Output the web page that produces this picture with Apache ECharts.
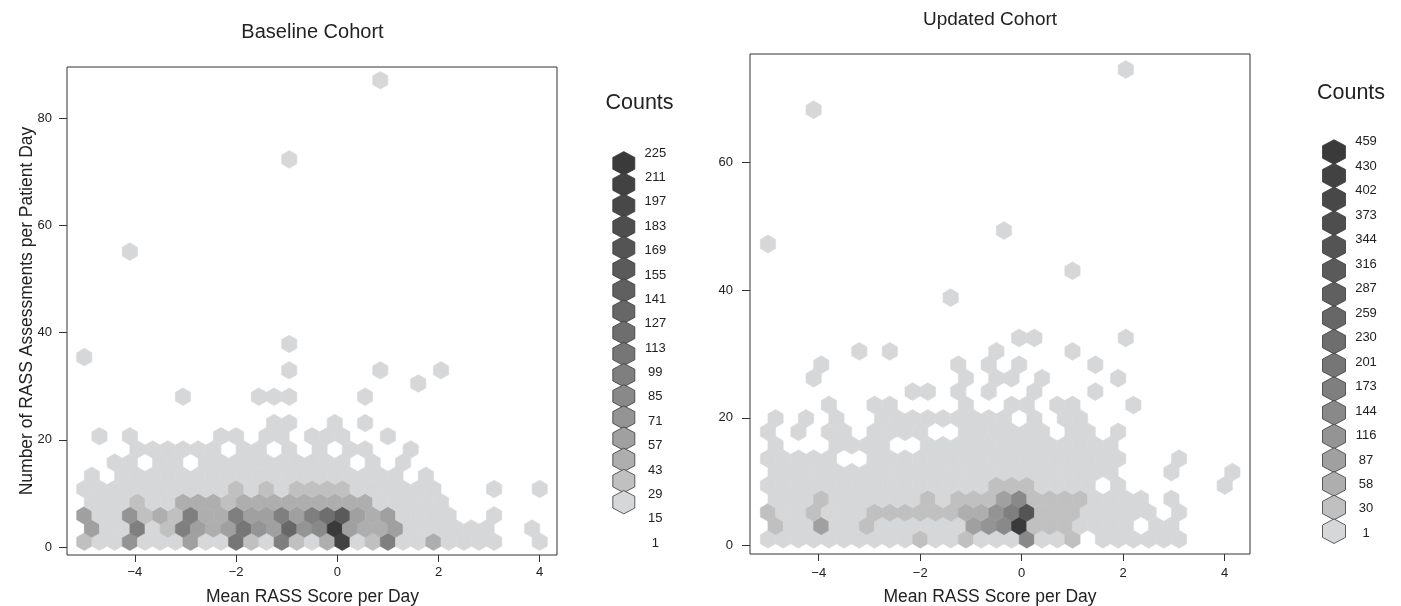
<!DOCTYPE html>
<html>
<head>
<meta charset="utf-8">
<script src="https://cdn.jsdelivr.net/npm/echarts@6/dist/echarts.min.js"></script>
<style>
html,body{margin:0;padding:0;background:#fff;}
#chart{width:1401px;height:606px;}
</style>
</head>
<body>
<div id="chart"></div>
<script>
// ---------------- DATA ----------------
// Hexbin counts, one array per hex row (index = column), 0 = empty cell
const xTicks = [-4, -2, 0, 2, 4];
const yTicksLeft = [0, 20, 40, 60, 80];
const yTicksRight = [0, 20, 40, 60];

const legendLeft = [1, 15, 29, 43, 57, 71, 85, 99, 113, 127, 141, 155, 169, 183, 197, 211, 225];
const legendRight = [1, 30, 58, 87, 116, 144, 173, 201, 230, 259, 287, 316, 344, 373, 402, 430, 459];

// Baseline cohort rows (row 0 at bottom)
const baseRow0 = [15,6,7,65,8,9,10,55,10,12,110,25,12,95,28,12,42,222,12,18,95,10,8,30,6,4,3,2,0,0,1];
const baseRow1 = [55,8,9,90,10,28,85,55,42,45,110,65,55,135,65,75,225,55,42,30,55,12,10,8,5,3,2,0,0,1,0];
const baseRow2 = [55,8,9,65,28,42,28,95,42,40,95,55,45,95,45,85,125,165,45,30,55,12,10,7,4,0,0,2,0,0,0];
const baseRow3 = [10,11,12,28,14,14,30,30,30,28,30,42,40,42,42,40,42,40,30,14,12,10,8,5,0,0,0,0,0,0,0];
const baseRow4 = [9,11,12,12,12,13,14,14,14,14,28,14,28,14,28,28,28,25,12,10,8,6,5,3,0,0,0,1,0,0,1];
const baseRow5 = [5,0,7,8,9,10,11,11,12,12,12,12,12,12,12,11,10,9,7,5,3,0,2,0,0,0,0,0,0,0,0];
const baseRow6 = [0,0,3,4,0,5,6,0,7,8,8,9,9,9,8,7,6,5,0,3,0,1,0,0,0,0,0,0,0,0,0];
const baseRow7 = [0,0,0,3,4,4,5,5,5,0,5,5,0,5,0,4,0,3,2,0,0,1,0,0,0,0,0,0,0,0,0];
const baseRow8 = [0,1,0,2,0,0,0,0,0,2,2,0,3,3,0,2,2,2,0,0,1,0,0,0,0,0,0,0,0,0,0];
// sparse baseline cells: [column, row, count]
const baseSparse = [[12,9,2],[13,9,2],[16,9,1],[18,9,1],[6,11,1],[11,11,1],[12,11,2],[13,11,2],[18,11,1],
  [22,12,1],[13,13,1],[19,13,1],[23,13,1],[0,14,1],[13,15,1],[3,22,1],[13,29,1],[19,35,1]];

// Updated cohort rows
const updRow0 = [12,14,15,16,16,17,18,20,22,24,40,24,25,40,26,28,28,160,28,26,55,0,14,10,8,6,4,2,0,0,0];
const updRow1 = [50,16,17,90,18,20,40,22,24,25,28,26,28,100,120,155,459,50,38,32,25,20,14,8,0,4,2,0,0,0,0];
const updRow2 = [45,16,17,45,18,20,22,35,35,35,35,35,35,75,85,130,190,360,45,35,35,25,20,14,8,4,0,2,0,0,0];
const updRow3 = [15,16,17,38,18,20,22,24,25,26,32,27,34,42,55,90,150,45,38,32,32,24,18,10,5,0,2,0,0,0,0];
const updRow4 = [14,15,16,17,18,19,20,21,22,22,23,24,25,26,27,35,35,35,27,25,22,18,0,8,0,0,0,0,0,0,1];
const updRow5 = [12,13,14,15,16,17,18,19,20,20,21,22,22,23,24,25,25,25,24,22,18,14,8,0,0,0,1,0,0,0,1];
const updRow6 = [10,11,12,13,14,0,0,15,16,17,18,18,19,20,21,22,22,22,20,18,15,12,8,4,0,0,0,1,0,0,0];
const updRow7 = [8,0,0,0,10,11,12,12,0,0,14,15,16,17,18,19,19,19,17,15,12,9,5,0,0,0,0,0,0,0,0];
const updRow8 = [6,0,7,0,8,8,0,9,10,11,11,0,0,12,13,14,14,13,12,0,9,7,0,3,0,0,0,0,0,0,0];
const updRow9 = [4,0,5,0,5,0,0,6,7,8,8,9,9,9,9,8,0,7,0,5,4,0,0,0,0,0,0,0,0,0,0];
const updRow10 = [0,0,0,0,3,0,0,4,4,0,0,0,0,5,0,0,5,4,0,3,3,0,0,0,1,0,0,0,0,0,0];
const updSparse = [[9,11,2],[10,11,2],[12,11,3],[14,11,3],[17,11,2],[21,11,1],
  [3,12,1],[13,12,2],[15,12,2],[16,12,2],[18,12,1],[23,12,1],
  [3,13,1],[12,13,2],[14,13,1],[16,13,1],[21,13,1],
  [6,14,1],[8,14,1],[15,14,1],[20,14,1],[16,15,1],[17,15,1],[23,15,1],
  [12,18,1],[20,20,1],[0,22,1],[15,23,1],[3,32,1],[23,35,1]];

// ---------------- GEOMETRY / STYLE ----------------
const FONT = '"Liberation Sans", Arimo, Arial, Helvetica, sans-serif';
const GRAYS = [215,192,174,160,148,137,127,118,110,103,96,90,84,78,72,66,58];
function levelColor(l) {
  const g = GRAYS[l];
  return l === 0 ? 'rgb(214,215,217)' : 'rgb(' + g + ',' + g + ',' + g + ')';
}
function levelOf(c, breaks) {
  let l = 0;
  for (let i = 0; i < breaks.length; i++) if (c >= breaks[i]) l = i;
  return l;
}
function buildHex(rows, sparse, x0, dx, y0, dy) {
  const out = [];
  rows.forEach((row, k) => row.forEach((c, j) => {
    if (c > 0) out.push([x0 + dx * (j + (k % 2) * 0.5), y0 + dy * k, c]);
  }));
  sparse.forEach(s => out.push([x0 + dx * (s[0] + (s[1] % 2) * 0.5), y0 + dy * s[1], s[2]]));
  return out;
}
const DX = 0.3, X0 = -5;
const baseDY = 2.46, baseY0 = 1;
const updDY = 2.1, updY0 = 1;

const baseData = buildHex([baseRow0,baseRow1,baseRow2,baseRow3,baseRow4,baseRow5,baseRow6,baseRow7,baseRow8],
  baseSparse, X0, DX, baseY0, baseDY);
const updData = buildHex([updRow0,updRow1,updRow2,updRow3,updRow4,updRow5,updRow6,updRow7,updRow8,updRow9,updRow10],
  updSparse, X0, DX, updY0, updDY);

function hexRenderer(dx, dy, breaks) {
  return function (params, api) {
    const x = api.value(0), y = api.value(1), c = api.value(2);
    const pts = [
      [x, y + 2 * dy / 3], [x + dx / 2, y + dy / 3], [x + dx / 2, y - dy / 3],
      [x, y - 2 * dy / 3], [x - dx / 2, y - dy / 3], [x - dx / 2, y + dy / 3]
    ].map(p => api.coord(p));
    const col = levelColor(levelOf(c, breaks));
    return { type: 'polygon', shape: { points: pts },
      style: { fill: col, stroke: col, lineWidth: 0.6 } };
  };
}

function xAxisCfg(gi, min, max, margin) {
  return {
    gridIndex: gi, type: 'value', min: min, max: max, position: 'bottom',
    axisLine: { show: false, onZero: false }, splitLine: { show: false },
    axisTick: { show: true, customValues: xTicks, length: 7, lineStyle: { color: '#333', width: 1 } },
    axisLabel: { customValues: xTicks, color: '#222', fontSize: 13, fontFamily: FONT, margin: margin,
      formatter: v => String(v).replace('-', '\u2212') }
  };
}
function yAxisCfg(gi, min, max, ticks, margin) {
  return {
    gridIndex: gi, type: 'value', min: min, max: max, position: 'left',
    axisLine: { show: false, onZero: false }, splitLine: { show: false },
    axisTick: { show: true, customValues: ticks, length: 8, lineStyle: { color: '#333', width: 1 } },
    axisLabel: { customValues: ticks, color: '#222', fontSize: 13, fontFamily: FONT, margin: margin,
      formatter: v => String(v) }
  };
}

// legend graphics
function legendGraphics(breaks, hx, hy0, hstep, halfW, rv, lx, ly0, lstep, fontSize) {
  const els = [];
  const n = breaks.length;
  for (let i = 0; i < n; i++) {
    const lvl = n - 1 - i;
    const cy = hy0 + i * hstep;
    els.push({
      type: 'polygon', silent: true,
      shape: { points: [[hx, cy - rv], [hx + halfW, cy - rv / 2], [hx + halfW, cy + rv / 2],
        [hx, cy + rv], [hx - halfW, cy + rv / 2], [hx - halfW, cy - rv / 2]] },
      style: { fill: levelColor(lvl), stroke: '#3a3a3a', lineWidth: 0.8 }
    });
  }
  for (let i = 0; i < n; i++) {
    els.push({
      type: 'text', silent: true, x: lx, y: ly0 + i * lstep,
      style: { text: String(breaks[n - 1 - i]), fill: '#222', font: fontSize + 'px ' + FONT,
        textAlign: 'center', textVerticalAlign: 'middle' }
    });
  }
  return els;
}
function txt(x, y, s, size) {
  return { type: 'text', silent: true, x: x, y: y,
    style: { text: s, fill: '#222', font: size + 'px ' + FONT, textAlign: 'center', textVerticalAlign: 'middle' } };
}

const graphics = []
  .concat(legendGraphics(legendLeft, 623.8, 163.3, 21.18, 11, 11.7, 655.3, 153, 24.39, 13))
  .concat(legendGraphics(legendRight, 1334, 152, 23.7, 11.5, 12.3, 1366, 141.7, 24.48, 13))
  .concat([
    txt(312.5, 32, 'Baseline Cohort', 20),
    txt(990, 20, 'Updated Cohort', 19),
    txt(639.5, 103.3, 'Counts', 21.5),
    txt(1351, 92.7, 'Counts', 21.5),
    txt(312.5, 597, 'Mean RASS Score per Day', 17.5),
    txt(990, 597, 'Mean RASS Score per Day', 17.5),
    { type: 'text', silent: true, x: 27, y: 311, rotation: Math.PI / 2,
      style: { text: 'Number of RASS Assessments per Patient Day', fill: '#222', font: '17.5px ' + FONT,
        textAlign: 'center', textVerticalAlign: 'middle' } }
  ]);

const chart = echarts.init(document.getElementById('chart'), null, { renderer: 'canvas' });
chart.setOption({
  animation: false,
  backgroundColor: '#ffffff',
  grid: [
    { left: 67, top: 67, width: 490, height: 488, show: true, borderColor: '#333', borderWidth: 1, backgroundColor: 'transparent' },
    { left: 750, top: 54, width: 500, height: 500, show: true, borderColor: '#333', borderWidth: 1, backgroundColor: 'transparent' }
  ],
  xAxis: [ xAxisCfg(0, -5.342, 4.342, 11), xAxisCfg(1, -5.354, 4.498, 13) ],
  yAxis: [ yAxisCfg(0, -1.474, 89.57, yTicksLeft, 15), yAxisCfg(1, -1.31, 76.93, yTicksRight, 17) ],
  series: [
    { type: 'custom', name: 'Baseline Cohort', xAxisIndex: 0, yAxisIndex: 0, silent: true,
      dimensions: ['x', 'y', 'count'], encode: { x: 0, y: 1 },
      renderItem: hexRenderer(DX, baseDY, legendLeft), data: baseData },
    { type: 'custom', name: 'Updated Cohort', xAxisIndex: 1, yAxisIndex: 1, silent: true,
      dimensions: ['x', 'y', 'count'], encode: { x: 0, y: 1 },
      renderItem: hexRenderer(DX, updDY, legendRight), data: updData }
  ],
  graphic: graphics
});
</script>
</body>
</html>
